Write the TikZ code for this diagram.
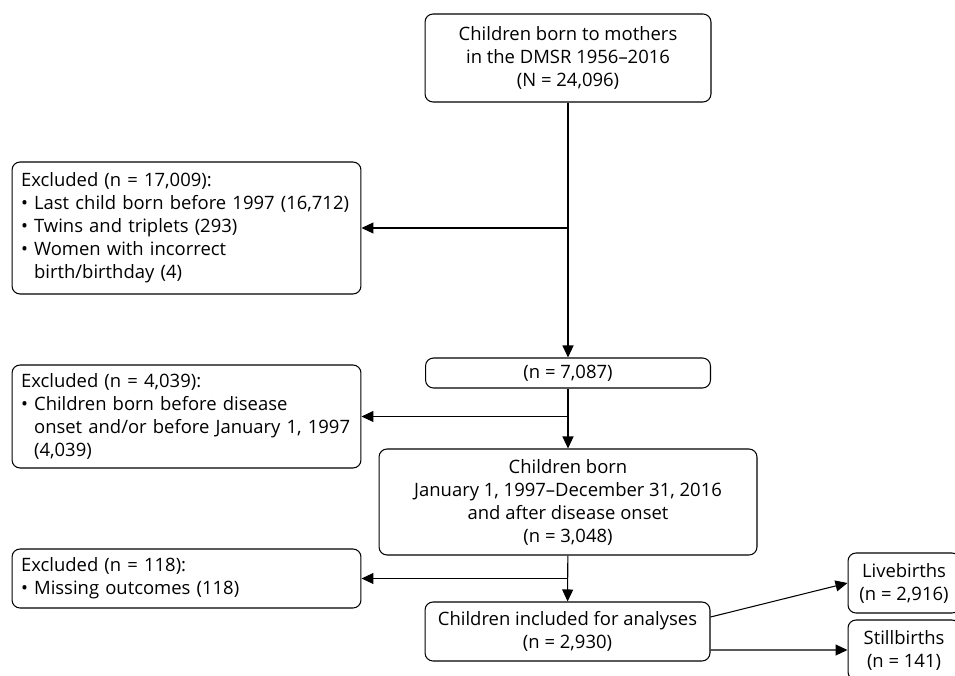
\documentclass[tikz,border=0pt]{standalone}
\usepackage{fontspec}
\setmainfont{Open Sans}
\usetikzlibrary{arrows.meta}

\newcommand{\hang}{\phantom{\textbullet\ }}

\begin{document}
\begin{tikzpicture}[x=0.02cm,y=-0.02cm,
  box/.style={draw,rounded corners=0.16cm,line width=0.6pt,inner sep=0pt,align=center,
    font=\fontsize{10.5}{13.1}\selectfont},
  lbox/.style={box,align=left,inner xsep=0.18cm,text width=6.62cm,minimum height=#1},
  arr/.style={-{Triangle[length=2.4mm,width=2.2mm]},line width=0.6pt}]
\useasboundingbox (0,0) rectangle (955,675);

\node[box,minimum width=5.72cm,minimum height=1.76cm] (born) at (568,58)
  {Children born to mothers\\in the DMSR 1956--2016\\(N = 24,096)};
\node[lbox=2.64cm] (excl1) at (186.5,228)
  {Excluded (n = 17,009):\\
   \textbullet\ Last child born before 1997 (16,712)\\
   \textbullet\ Twins and triplets (293)\\
   \textbullet\ Women with incorrect\\
   \hang birth/birthday (4)};
\node[box,minimum width=5.7cm,minimum height=0.6cm] (cohort) at (568,373) {(n = 7,087)};
\node[lbox=2.06cm] (excl2) at (186.5,416.5)
  {Excluded (n = 4,039):\\
   \textbullet\ Children born before disease\\
   \hang onset and/or before January 1, 1997\\
   \hang (4,039)};
\node[box,minimum width=7.56cm,minimum height=2.12cm] (onset) at (568,502)
  {Children born\\January 1, 1997--December 31, 2016\\and after disease onset\\(n = 3,048)};
\node[lbox=1.18cm] (excl3) at (186.5,578.5)
  {Excluded (n = 118):\\
   \textbullet\ Missing outcomes (118)};
\node[box,minimum width=5.7cm,minimum height=1.18cm] (incl) at (567.5,631.5)
  {Children included for analyses\\(n = 2,930)};
\node[box,minimum width=2.24cm,minimum height=1.2cm] (live) at (904,583)
  {Livebirths\\(n = 2,916)};
\node[box,minimum width=2.24cm,minimum height=1.2cm] (still) at (904,650)
  {Stillbirths\\(n = 141)};

\draw[arr] (born) -- (cohort);
\draw[arr] (born.south |- excl1.east) -- (excl1.east);
\draw[arr] (cohort) -- (onset);
\draw[arr] (cohort.south |- excl2.east) -- (excl2.east);
\draw[arr] (onset) -- (incl);
\draw[arr] (onset.south |- excl3.east) -- (excl3.east);
\draw[arr] ([yshift=0.29cm]incl.east) -- (live.west);
\draw[arr] ([yshift=-0.37cm]incl.east) -- (still.west);
\end{tikzpicture}
\end{document}
